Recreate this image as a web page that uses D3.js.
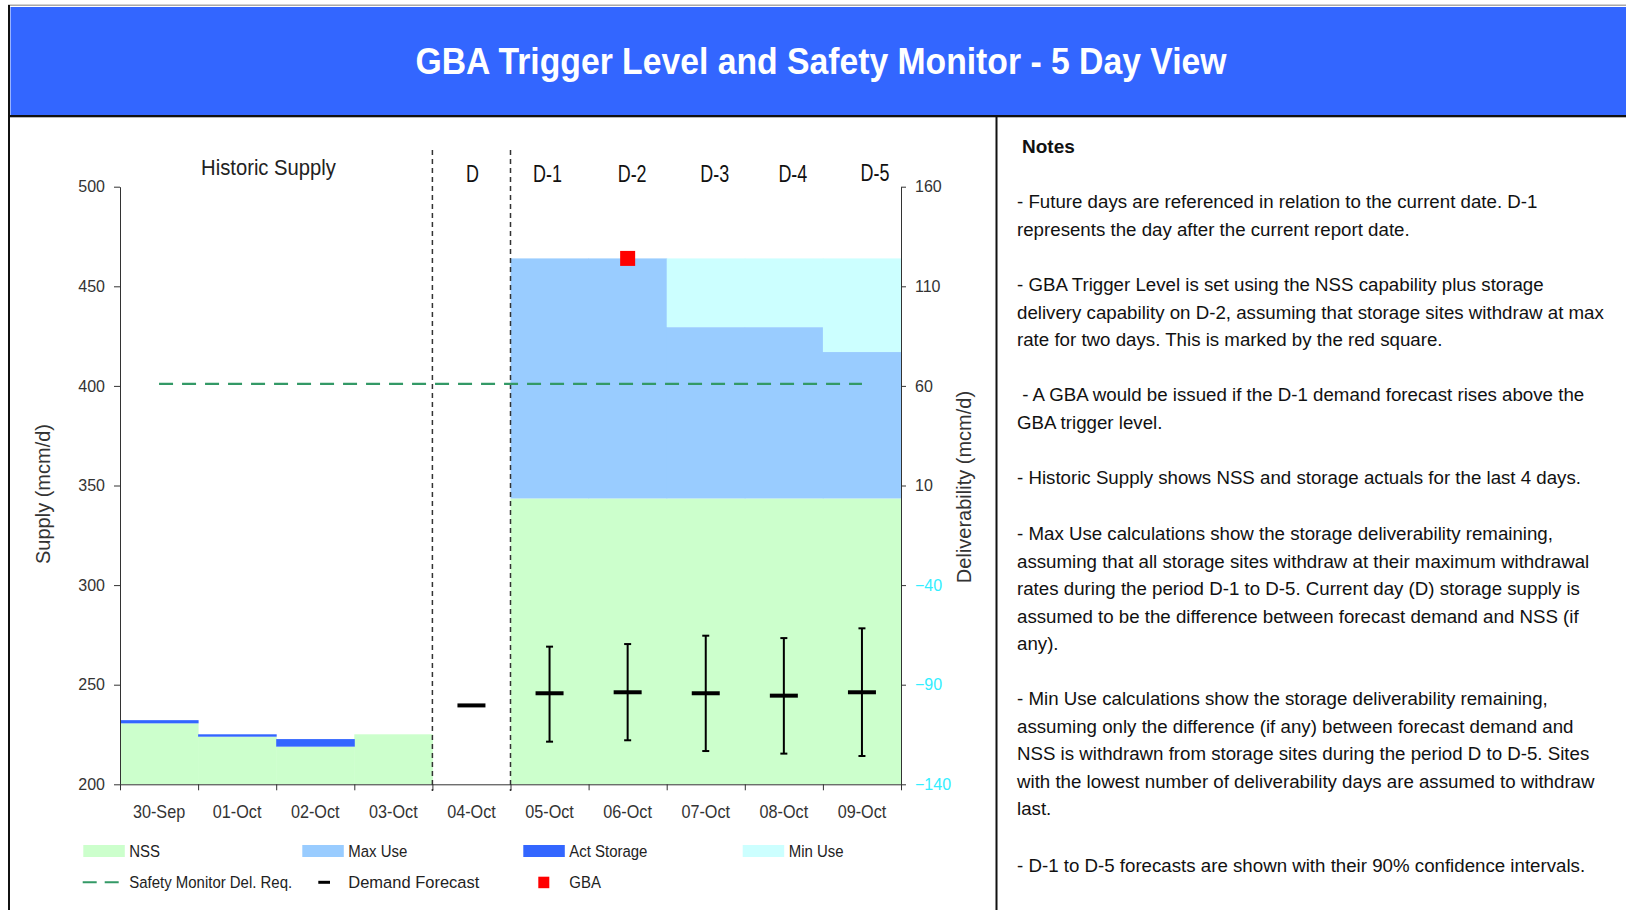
<!DOCTYPE html>
<html>
<head>
<meta charset="utf-8">
<script src="https://cdn.jsdelivr.net/npm/d3@7"></script>
<style>
  body { margin: 0; background: #fff; }
  svg { display: block; }
  text { font-family: "Liberation Sans", Arial, sans-serif; white-space: pre; }
</style>
</head>
<body>
<div id="viz"></div>
<script>
'use strict';

// ---- data ----
const dates = ['30-Sep', '01-Oct', '02-Oct', '03-Oct', '04-Oct',
  '05-Oct', '06-Oct', '07-Oct', '08-Oct', '09-Oct'];
const dayLabels = ['D', 'D-1', 'D-2', 'D-3', 'D-4', 'D-5'];
const nss = [230.6, 223.9, 218.9, 225.1, 0, 343.5, 343.5, 343.5, 343.5, 343.5];
const actStorage = [1.6, 1.2, 3.8, 0, 0, 0, 0, 0, 0, 0];
const maxUse = [0, 0, 0, 0, 0, 120.5, 120.5, 86, 86, 73.5];
const minUse = [0, 0, 0, 0, 0, 0, 0, 34.5, 34.5, 47];
const demand = [null, null, null, null, 239.6, 245.7, 246.2, 245.7, 244.5, 246.2];
const ciLow = [null, null, null, null, null, 221.4, 222.1, 216.7, 215.4, 214.2];
const ciHigh = [null, null, null, null, null, 269.1, 270.4, 274.6, 273.4, 278.3];
const gbaDate = '06-Oct';
const gbaLevel = 464;
const safetyMonitor = 401;
const leftTicks = [200, 250, 300, 350, 400, 450, 500];
const rightTicks = [-140, -90, -40, 10, 60, 110, 160];

const legendRow1 = ['NSS', 'Max Use', 'Act Storage', 'Min Use'];
const legendRow2 = ['Safety Monitor Del. Req.', 'Demand Forecast', 'GBA'];

const title = 'GBA Trigger Level and Safety Monitor - 5 Day View';
const notes = [
  ['- Future days are referenced in relation to the current date. D-1',
   'represents the day after the current report date.'],
  ['- GBA Trigger Level is set using the NSS capability plus storage',
   'delivery capability on D-2, assuming that storage sites withdraw at max',
   'rate for two days. This is marked by the red square.'],
  [' - A GBA would be issued if the D-1 demand forecast rises above the',
   'GBA trigger level.'],
  ['- Historic Supply shows NSS and storage actuals for the last 4 days.'],
  ['- Max Use calculations show the storage deliverability remaining,',
   'assuming that all storage sites withdraw at their maximum withdrawal',
   'rates during the period D-1 to D-5. Current day (D) storage supply is',
   'assumed to be the difference between forecast demand and NSS (if',
   'any).'],
  ['- Min Use calculations show the storage deliverability remaining,',
   'assuming only the difference (if any) between forecast demand and',
   'NSS is withdrawn from storage sites during the period D to D-5. Sites',
   'with the lowest number of deliverability days are assumed to withdraw',
   'last.'],
  ['- D-1 to D-5 forecasts are shown with their 90% confidence intervals.']
];

const colors = {
  nss: '#ccffcc', act: '#3366ff', max: '#99ccff', min: '#ccffff',
  header: '#3366ff', safety: '#339966', gba: '#ff0000'
};

// ---- page ----
const W = 1626, H = 910;
const svg = d3.select('#viz').append('svg')
  .attr('width', W).attr('height', H);

// text that is squeezed sideways like the original narrow font
function label(parent, x, y, str, opt) {
  opt = opt || {};
  return parent.append('text')
    .attr('transform', `translate(${x},${y}) scale(${opt.sx || 1},1)`)
    .attr('text-anchor', opt.anchor || 'start')
    .attr('font-size', opt.size || 16)
    .attr('font-weight', opt.weight || 'normal')
    .attr('fill', opt.fill || '#222')
    .text(str);
}

// frame and header
svg.append('rect').attr('x', 8).attr('y', 4.5).attr('width', W - 8).attr('height', 1.5)
  .attr('fill', '#a8a8a8');
svg.append('rect').attr('x', 8).attr('y', 5).attr('width', 2).attr('height', H - 5)
  .attr('fill', '#111');
svg.append('rect').attr('x', 10.5).attr('y', 7).attr('width', W - 10.5).attr('height', 108)
  .attr('fill', colors.header);
svg.append('rect').attr('x', 10).attr('y', 115).attr('width', W - 10).attr('height', 2.3)
  .attr('fill', '#111');
svg.append('rect').attr('x', 995.5).attr('y', 117).attr('width', 2).attr('height', H - 117)
  .attr('fill', '#111');

svg.append('text')
  .attr('x', 821).attr('y', 73.5)
  .attr('text-anchor', 'middle')
  .attr('font-size', 36).attr('font-weight', 'bold')
  .attr('fill', '#fff')
  .attr('textLength', 811).attr('lengthAdjust', 'spacingAndGlyphs')
  .text(title);

// ---- chart ----
const plot = {left: 120, right: 901, top: 186.7, bottom: 784.3};

const x = d3.scaleBand().domain(dates).range([plot.left, plot.right]).padding(0);
const xIdx = d3.scaleLinear().domain([0, dates.length]).range([plot.left, plot.right]);
const yL = d3.scaleLinear().domain([200, 500]).range([plot.bottom, plot.top]);
const yR = d3.scaleLinear().domain([-140, 160]).range([plot.bottom, plot.top]);

const rows = dates.map((d, i) => ({
  date: d, nss: nss[i], act: actStorage[i], max: maxUse[i], min: minUse[i]
}));
const keys = ['nss', 'act', 'max', 'min'];
const stack = d3.stack().keys(keys)(rows);

const g = svg.append('g');

stack.forEach(layer => {
  g.append('g')
    .selectAll('rect')
    .data(layer.filter(s => s[1] > s[0]))
    .join('rect')
      .attr('x', s => x(s.data.date))
      .attr('width', x.bandwidth() + 0.5)
      .attr('y', s => yL(Math.min(s[1], 500)))
      .attr('height', s => yL(Math.max(s[0], 200)) - yL(Math.min(s[1], 500)))
      .attr('fill', colors[layer.key]);
});

// separators between historic, current day and forecast
[4, 5].forEach(i => {
  g.append('line')
    .attr('x1', xIdx(i)).attr('x2', xIdx(i))
    .attr('y1', 150).attr('y2', 791)
    .attr('stroke', '#333').attr('stroke-width', 1.5)
    .attr('stroke-dasharray', '5,4');
});

// safety monitor requirement
g.append('path')
  .datum(dates)
  .attr('fill', 'none')
  .attr('stroke', colors.safety)
  .attr('stroke-width', 2.2)
  .attr('stroke-dasharray', '14,9')
  .attr('d', d3.line()
    .x(d => x(d) + x.bandwidth() / 2)
    .y(() => yL(safetyMonitor)));

// demand forecast with confidence intervals
const fc = dates.map((d, i) => ({date: d, v: demand[i], lo: ciLow[i], hi: ciHigh[i]}));
const cx = d => x(d.date) + x.bandwidth() / 2;

g.append('g').selectAll('line')
  .data(fc.filter(d => d.lo != null))
  .join('line')
    .attr('x1', cx).attr('x2', cx)
    .attr('y1', d => yL(d.hi)).attr('y2', d => yL(d.lo))
    .attr('stroke', '#000').attr('stroke-width', 2);

['lo', 'hi'].forEach(k => {
  g.append('g').selectAll('line')
    .data(fc.filter(d => d[k] != null))
    .join('line')
      .attr('x1', d => cx(d) - 3.5).attr('x2', d => cx(d) + 3.5)
      .attr('y1', d => yL(d[k])).attr('y2', d => yL(d[k]))
      .attr('stroke', '#000').attr('stroke-width', 2);
});

g.append('g').selectAll('line')
  .data(fc.filter(d => d.v != null))
  .join('line')
    .attr('x1', d => cx(d) - 14).attr('x2', d => cx(d) + 14)
    .attr('y1', d => yL(d.v)).attr('y2', d => yL(d.v))
    .attr('stroke', '#000').attr('stroke-width', 4);

// GBA trigger level marker
g.append('rect')
  .attr('x', x(gbaDate) + x.bandwidth() / 2 - 7.5)
  .attr('y', yL(gbaLevel) - 7.5)
  .attr('width', 15).attr('height', 15)
  .attr('fill', colors.gba);

// axes
const axisL = g.append('g')
  .attr('transform', `translate(${plot.left},0)`)
  .call(d3.axisLeft(yL).tickValues(leftTicks).tickSize(6).tickSizeOuter(0).tickPadding(9));

const axisR = g.append('g')
  .attr('transform', `translate(${plot.right},0)`)
  .call(d3.axisRight(yR).tickValues(rightTicks).tickSize(5).tickSizeOuter(0).tickPadding(9));

const axisB = g.append('g')
  .attr('transform', `translate(0,${plot.bottom})`)
  .call(d3.axisBottom(xIdx).tickValues(d3.range(dates.length + 1))
    .tickFormat('').tickSize(6).tickSizeOuter(0));

[axisL, axisR, axisB].forEach(a => {
  a.select('.domain').attr('stroke', '#333');
  a.selectAll('.tick line').attr('stroke', '#333');
  a.selectAll('text')
    .attr('font-family', '"Liberation Sans", Arial, sans-serif')
    .attr('font-size', 16)
    .attr('fill', '#333');
});
axisR.selectAll('.tick text').attr('fill', d => d < 0 ? '#33eeff' : '#333');

dates.forEach(d => {
  label(g, x(d) + x.bandwidth() / 2, 818, d, {size: 18, sx: 0.9, anchor: 'middle', fill: '#333'});
});

// period labels above the plot
label(g, (xIdx(0) + xIdx(4)) / 2 - 7.7, 175, 'Historic Supply', {size: 22, sx: 0.92, anchor: 'middle'});
const dayLabelDx = [1, -2, 4.5, 9, 9, 13];
dayLabels.forEach((t, i) => {
  label(g, x(dates[4 + i]) + x.bandwidth() / 2 + dayLabelDx[i], i === 5 ? 180.5 : 182, t,
    {size: 23, sx: 0.78, anchor: 'middle', fill: '#111'});
});

// axis titles
g.append('text')
  .attr('transform', 'translate(49.5,494) rotate(-90)')
  .attr('text-anchor', 'middle').attr('font-size', 20).attr('fill', '#333')
  .text('Supply (mcm/d)');
g.append('text')
  .attr('transform', 'translate(970.5,487) rotate(-90)')
  .attr('text-anchor', 'middle').attr('font-size', 20).attr('fill', '#333')
  .text('Deliverability (mcm/d)');

// ---- legend ----
const leg = svg.append('g');
const row1X = [83.3, 302.3, 523.3, 742.7];
const row1Fill = [colors.nss, colors.max, colors.act, colors.min];
legendRow1.forEach((name, i) => {
  leg.append('rect')
    .attr('x', row1X[i]).attr('y', 845).attr('width', 41.5).attr('height', 12)
    .attr('fill', row1Fill[i]);
  label(leg, row1X[i] + 46, 857, name, {size: 17, sx: 0.88});
});

const row2X = [129.3, 348.3, 569.3];
leg.append('line')
  .attr('x1', 82.7).attr('x2', 119.3).attr('y1', 882.3).attr('y2', 882.3)
  .attr('stroke', colors.safety).attr('stroke-width', 2).attr('stroke-dasharray', '14,8');
leg.append('line')
  .attr('x1', 318.3).attr('x2', 330).attr('y1', 882.3).attr('y2', 882.3)
  .attr('stroke', '#000').attr('stroke-width', 3);
leg.append('rect')
  .attr('x', 538.3).attr('y', 876.7).attr('width', 11).attr('height', 11.5)
  .attr('fill', colors.gba);
legendRow2.forEach((name, i) => {
  label(leg, row2X[i], 888, name, {size: 17, sx: i === 1 ? 0.97 : 0.88});
});

// ---- notes panel ----
const notesG = svg.append('g');
label(notesG, 1022, 153, 'Notes', {size: 19, weight: 'bold', fill: '#111'});
const paraStart = [208.2, 291.2, 401.1, 484.1, 540, 705, 872];
notes.forEach((para, p) => {
  para.forEach((line, j) => {
    label(notesG, 1017, paraStart[p] + j * 27.5, line, {size: 18.7, fill: '#111'});
  });
});
</script>
</body>
</html>
